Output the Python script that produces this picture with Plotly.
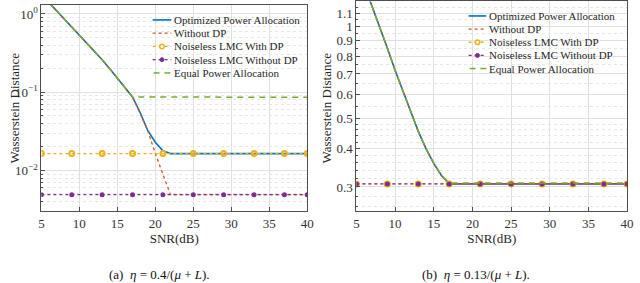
import plotly.graph_objects as go

# ---------------- data ----------------
# (a) eta = 0.4/(mu+L)
snr_a_common = [5, 6, 7, 8, 9, 10, 11, 12, 13, 14, 15, 16, 17]
w_a_common = [1.78, 1.40, 1.10, 0.873, 0.690, 0.546, 0.431, 0.339, 0.260, 0.200, 0.151, 0.115, 0.087]
snr_a_tail = [18, 19, 20, 21, 22, 40]
w_a_opt_tail = [0.055, 0.0324, 0.0229, 0.0178, 0.0164, 0.0164]
w_a_nodp_tail = [0.0537, 0.0324, 0.0164, 0.0089, 0.0049, 0.0049]
snr_a_eq_tail = [40]
w_a_eq_tail = [0.086]
snr_marks = [5, 9, 13, 17, 21, 25, 29, 33, 37, 40]
w_a_lmc_dp = [0.0164] * len(snr_marks)
w_a_lmc_nodp = [0.0049] * len(snr_marks)

# (b) eta = 0.13/(mu+L)
snr_b = [5, 6, 7, 8, 9, 10, 11, 12, 13, 14, 15, 16, 17, 40]
w_b_curve = [1.60, 1.37, 1.17, 0.995, 0.85, 0.72, 0.62, 0.53, 0.455, 0.400, 0.358, 0.327, 0.307, 0.307]
w_b_eq = [1.60, 1.37, 1.17, 0.995, 0.85, 0.72, 0.62, 0.53, 0.455, 0.400, 0.358, 0.327, 0.309, 0.309]
w_b_lmc_dp = [0.307] * len(snr_marks)
w_b_lmc_nodp = [0.307] * len(snr_marks)

series_names = ["Optimized Power Allocation", "Without DP", "Noiseless LMC With DP",
                "Noiseless LMC Without DP", "Equal Power Allocation"]
x_ticks = [5, 10, 15, 20, 25, 30, 35, 40]
ya_ticks = [0.01, 0.1, 1]
ya_ticktext = ["10<sup>−2</sup>", "10<sup>−1</sup>", "10<sup>0</sup>"]
yb_ticks = [0.3, 0.4, 0.5, 0.6, 0.7, 0.8, 0.9, 1, 1.1]
yb_ticktext = ["0.3", "0.4", "0.5", "0.6", "0.7", "0.8", "0.9", "1", "1.1"]

# ---------------- style ----------------
C_BLUE = "#0072BD"
C_RED = "#D95319"
C_YEL = "#EDB120"
C_PUR = "#7E2F8E"
C_GRN = "#77AC30"
FONT = "Liberation Serif, Times New Roman, serif"
W, H = 640, 283

fig = go.Figure()

def add_series(xa, ya, x_opt, y_opt, x_nd, y_nd, y_dp, y_ndp, x_eq, y_eq):
    fig.add_trace(go.Scatter(x=x_opt, y=y_opt, mode="lines", line=dict(color=C_BLUE, width=1.6),
                             xaxis=xa, yaxis=ya, showlegend=False, name=series_names[0]))
    fig.add_trace(go.Scatter(x=x_nd, y=y_nd, mode="lines", line=dict(color=C_RED, width=1.3, dash="dot"),
                             xaxis=xa, yaxis=ya, showlegend=False, name=series_names[1]))
    fig.add_trace(go.Scatter(x=snr_marks, y=y_dp, mode="lines+markers",
                             line=dict(color=C_YEL, width=1.3, dash="dot"),
                             marker=dict(symbol="circle-open", size=5, color=C_YEL, line=dict(width=2, color=C_YEL)),
                             xaxis=xa, yaxis=ya, showlegend=False, name=series_names[2]))
    fig.add_trace(go.Scatter(x=snr_marks, y=y_ndp, mode="lines+markers",
                             line=dict(color=C_PUR, width=1.3, dash="dot"),
                             marker=dict(symbol="circle", size=5, color=C_PUR),
                             xaxis=xa, yaxis=ya, showlegend=False, name=series_names[3]))
    fig.add_trace(go.Scatter(x=x_eq, y=y_eq, mode="lines", line=dict(color=C_GRN, width=1.5, dash="6px,5px"),
                             xaxis=xa, yaxis=ya, showlegend=False, name=series_names[4]))

add_series("x", "y",
           snr_a_common + snr_a_tail, w_a_common + w_a_opt_tail,
           snr_a_common + snr_a_tail, w_a_common + w_a_nodp_tail,
           w_a_lmc_dp, w_a_lmc_nodp,
           snr_a_common + snr_a_eq_tail, w_a_common + w_a_eq_tail)
add_series("x2", "y2",
           snr_b, w_b_curve, snr_b, w_b_curve,
           w_b_lmc_dp, w_b_lmc_nodp, snr_b, w_b_eq)

# minor grid values
minor_a = [m * 10 ** k for k in (-3, -2, -1, 0) for m in range(2, 10)]
minor_b = [0.26, 0.28, 0.32, 0.34, 0.36, 0.38, 0.42, 0.44, 0.46, 0.48, 0.55, 0.65, 0.75, 0.85, 0.95, 1.05, 1.15]

axis_common = dict(showline=True, mirror=True, linecolor="#4d4d4d", linewidth=1,
                   ticks="inside", ticklen=4, tickcolor="#4d4d4d",
                   showgrid=True, gridcolor="#e0e0e0", gridwidth=1, zeroline=False,
                   tickfont=dict(family=FONT, size=13, color="#333333"))

def px_x(p):
    return p / W

def px_y(p):
    return 1 - p / H

fig.update_layout(
    width=W, height=H, margin=dict(l=0, r=0, t=0, b=0),
    paper_bgcolor="white", plot_bgcolor="white", showlegend=False,
    xaxis=dict(domain=[px_x(39), px_x(309)], range=[5, 40], tickvals=x_ticks, anchor="y",
               title=dict(text="SNR(dB)", font=dict(family=FONT, size=13, color="#262626"), standoff=2),
               **axis_common),
    yaxis=dict(domain=[px_y(211), px_y(4)], type="log", range=[-2.522, 0.115], anchor="x",
               tickvals=ya_ticks, ticktext=ya_ticktext,
               minor=dict(tickvals=minor_a, showgrid=True, gridcolor="#e6e6e6", griddash="dot", ticks="inside",
                          ticklen=2, tickcolor="#4d4d4d"),
               **axis_common),
    xaxis2=dict(domain=[px_x(359), px_x(634)], range=[5, 40], tickvals=x_ticks, anchor="y2",
                title=dict(text="SNR(dB)", font=dict(family=FONT, size=13, color="#262626"), standoff=2),
                **axis_common),
    yaxis2=dict(domain=[px_y(211), px_y(0.5)], type="log", range=[-0.602, 0.081], anchor="x2",
                tickvals=yb_ticks, ticktext=yb_ticktext,
                minor=dict(tickvals=minor_b, showgrid=True, gridcolor="#e6e6e6", griddash="dot", ticks="inside",
                           ticklen=2, tickcolor="#4d4d4d"),
                **axis_common),
)

annotations = []
shapes = []

# y-axis titles
for xp in (12, 329):
    annotations.append(dict(x=px_x(xp), y=px_y(107), xref="paper", yref="paper", text="Wasserstein Distance",
                            textangle=-90, showarrow=False, xanchor="center", yanchor="middle",
                            font=dict(family=FONT, size=13, color="#262626")))

# captions
annotations.append(dict(x=px_x(159), y=px_y(274), xref="paper", yref="paper",
                        text="(a)  <i>η</i> = 0.4/(<i>μ</i> + <i>L</i>).", showarrow=False,
                        xanchor="center", yanchor="middle", font=dict(family=FONT, size=13, color="#111111")))
annotations.append(dict(x=px_x(481), y=px_y(274), xref="paper", yref="paper",
                        text="(b)  <i>η</i> = 0.13/(<i>μ</i> + <i>L</i>).", showarrow=False,
                        xanchor="center", yanchor="middle", font=dict(family=FONT, size=13, color="#111111")))

# manual legends (compact, like the original)
leg_styles = [
    dict(color=C_BLUE, width=1.6, dash="solid", marker=None),
    dict(color=C_RED, width=1.3, dash="dot", marker=None),
    dict(color=C_YEL, width=1.3, dash="dot", marker="open"),
    dict(color=C_PUR, width=1.3, dash="dot", marker="fill"),
    dict(color=C_GRN, width=1.5, dash="dash", marker=None),
]

def add_legend(x0, x1, y0, dy):
    for i, (name, st) in enumerate(zip(series_names, leg_styles)):
        yy = y0 + i * dy
        if st["dash"] == "dash":
            for a, b in ((x0 + 1, x0 + 7), (x0 + 12, x0 + 18)):
                shapes.append(dict(type="line", xref="paper", yref="paper", x0=px_x(a), x1=px_x(b),
                                   y0=px_y(yy), y1=px_y(yy), line=dict(color=st["color"], width=st["width"])))
        else:
            shapes.append(dict(type="line", xref="paper", yref="paper", x0=px_x(x0), x1=px_x(x1),
                               y0=px_y(yy), y1=px_y(yy),
                               line=dict(color=st["color"], width=st["width"], dash=st["dash"])))
        if st["marker"]:
            xm = (x0 + x1) / 2
            r = 2.3 if st["marker"] == "open" else 2.0
            shapes.append(dict(type="circle", xref="paper", yref="paper",
                               x0=px_x(xm - r), x1=px_x(xm + r), y0=px_y(yy + r), y1=px_y(yy - r),
                               line=dict(color=st["color"], width=1.5 if st["marker"] == "open" else 1),
                               fillcolor="white" if st["marker"] == "open" else st["color"]))
        annotations.append(dict(x=px_x(x1 + 1), y=px_y(yy), xref="paper", yref="paper", text=name,
                                showarrow=False, xanchor="left", yanchor="middle",
                                font=dict(family=FONT, size=11, color="#262626")))

add_legend(152, 171, 19, 13.3)
add_legend(473, 491, 15, 13.2)

fig.update_layout(annotations=annotations, shapes=shapes)
fig.write_html("out.html", config={"displayModeBar": False},
               post_script="document.body.style.margin='0px';document.body.style.padding='0px';")
